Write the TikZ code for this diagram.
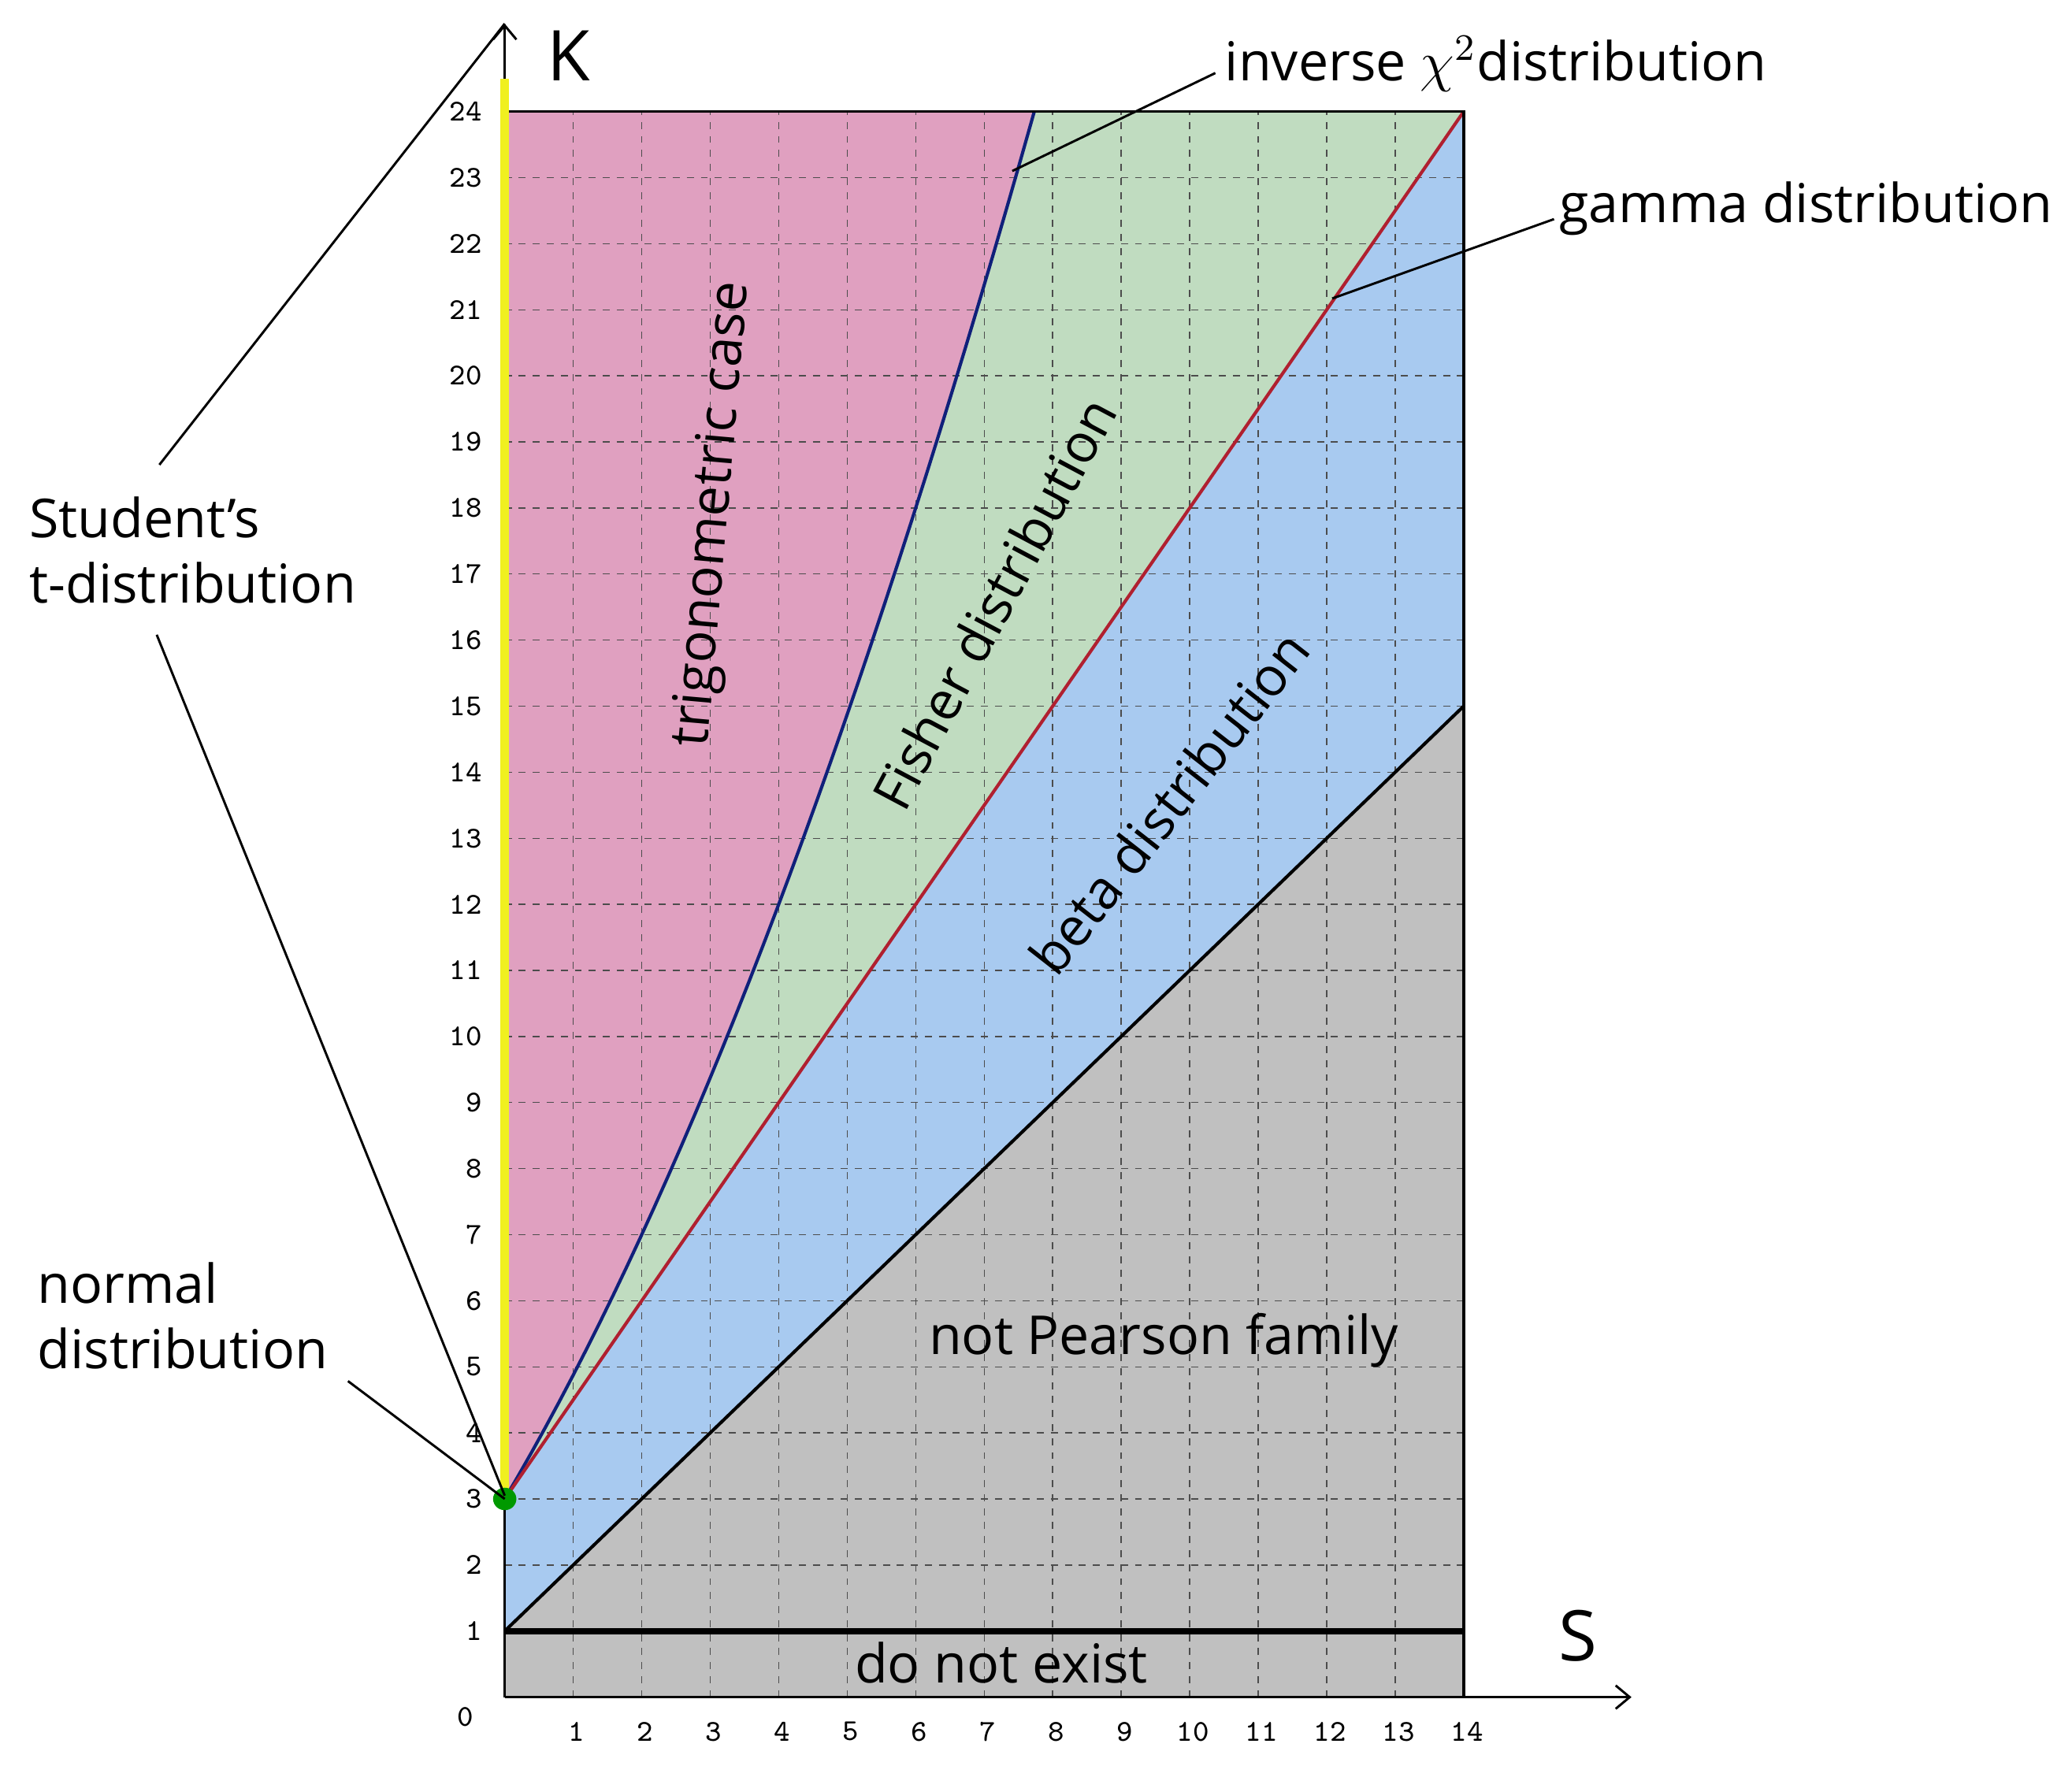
\documentclass[tikz,border=0pt]{standalone}
\usepackage{fontspec}
\setmainfont{Open Sans}
\usetikzlibrary{arrows.meta}
\definecolor{cpink}{HTML}{E0A0C0}
\definecolor{cgreen}{HTML}{C0DCC0}
\definecolor{cblue}{HTML}{A8CAF0}
\definecolor{cgrey}{HTML}{C0C0C0}
\definecolor{cred}{HTML}{B02030}
\definecolor{cnavy}{HTML}{10207A}
\definecolor{cyel}{HTML}{F0F020}
\tikzset{
 lbl/.style={font=\fontsize{11.5}{14}\selectfont, inner sep=1pt},
 tick/.style={font=\ttfamily\fontsize{6.5}{7}\selectfont, inner sep=0pt},
 leader/.style={black, line width=0.5pt},
 gridl/.style={gray!60!black, dash pattern=on 1.5pt off 1.5pt, line width=0.25pt}
}
\begin{document}
\begin{tikzpicture}
\useasboundingbox (0,0) rectangle (15.6,13.38);
\begin{scope}[shift={(3.80,0.60)}, x=0.5157cm, y=0.4975cm]
 \fill[cpink] (0,3) -- plot[domain=0:7.73,samples=40] (\x,{0.125*\x*\x+1.75*\x+3}) -- (0,24) -- cycle;
 \fill[cgreen] plot[domain=0:7.73,samples=40] (\x,{0.125*\x*\x+1.75*\x+3}) -- (14,24) -- cycle;
 \fill[cblue] (0,1) -- (14,15) -- (14,24) -- (0,3) -- cycle;
 \fill[cgrey] (0,0) -- (14,0) -- (14,15) -- (0,1) -- cycle;
 \foreach \i in {1,...,13} \draw[gridl] (\i,0) -- (\i,24);
 \foreach \j in {2,...,23} \draw[gridl] (0,\j) -- (14,\j);
 \draw[cnavy, line width=0.7pt] plot[domain=0:7.73,samples=40] (\x,{0.125*\x*\x+1.75*\x+3});
 \draw[cred, line width=0.7pt] (0,3) -- (14,24);
 \draw[black, line width=0.7pt] (0,1) -- (14,15);
 \draw[black, line width=1.3pt] (0,1) -- (14,1);
 \draw[black, line width=0.6pt] (0,24) -- (14,24) -- (14,0);
 \draw[-{Straight Barb[length=3pt,width=5pt]}, line width=0.5pt] (0,0) -- (16.45,0);
 \draw[-{Straight Barb[length=3pt,width=5pt]}, line width=0.5pt] (0,0) -- (0,25.33) coordinate (ytop);
 \draw[cyel, line width=1.8pt] (0,3) -- (0,24.5);
 \fill[green!60!black] (0,3) circle (0.17) coordinate (nd);
 \coordinate (st) at (0,3.05);
 \coordinate (chi) at (7.41,23.1);
 \coordinate (gam) at (12.08,21.17);
 \foreach \i in {1,...,14} \node[tick] (x\i) at (\i+0.05,-0.52) {\i};
 \node[tick] (y0) at (-0.58,-0.3) {0};
 \foreach \j in {1,...,24} \node[tick, anchor=east] (y\j) at (-0.32,\j) {\j};
 \node[lbl, rotate=85] (trig) at (3.06,17.9) {trigonometric case};
 \node[lbl, rotate=62] (fish) at (7.14,16.56) {Fisher distribution};
 \node[lbl, rotate=52] (beta) at (9.7,13.54) {beta distribution};
 \node[lbl] (np) at (9.62,5.4) {not Pearson family};
 \node[lbl] (dne) at (7.25,0.52) {do not exist};
\end{scope}
\node[lbl, font=\fontsize{15}{17}\selectfont] (K) at (4.28,12.96) {K};
\node[lbl, font=\fontsize{15}{17}\selectfont] (S) at (11.88,1.06) {S};
\node[lbl, anchor=west] (tchi) at (9.18,12.90) {inverse $\chi^2$distribution};
\node[lbl, anchor=west] (tgam) at (11.70,11.81) {gamma distribution};
\node[lbl, anchor=west, align=left] (tst) at (0.18,9.24) {Student’s\\t-distribution};
\node[lbl, anchor=west, align=left] (tnd) at (0.24,3.47) {normal\\distribution};
\draw[leader] (chi) -- (9.15,12.83);
\draw[leader] (gam) -- (11.70,11.73);
\draw[leader] (1.20,9.88) -- (ytop);
\draw[leader] (1.18,8.60) -- (st);
\draw[leader] (2.62,2.98) -- (nd);
\end{tikzpicture}
\end{document}
